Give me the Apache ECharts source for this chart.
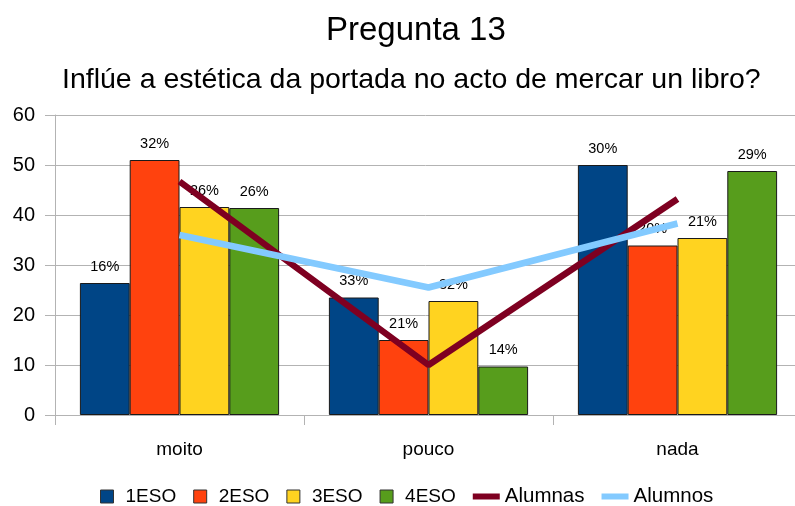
<!DOCTYPE html>
<html>
<head>
<meta charset="utf-8">
<script src="https://cdn.jsdelivr.net/npm/echarts@6/dist/echarts.min.js"></script>
<style>
  html, body { margin: 0; padding: 0; background: #fff; }
  #main { width: 795px; height: 506px; }
</style>
</head>
<body>
<div id="main"></div>
<script>
// datos
var categorias = ["moito", "pouco", "nada"];
var eso1 = [26.4, 23.5, 50];
var eso2 = [51, 15, 33.9];
var eso3 = [41.6, 22.8, 35.4];
var eso4 = [41.4, 9.7, 48.8];
var pct1 = ["16%", "33%", "30%"];
var pct2 = ["32%", "21%", "20%"];
var pct3 = ["26%", "32%", "21%"];
var pct4 = ["26%", "14%", "29%"];
var alumnas = [46.7, 10, 43.2];
var alumnos = [36, 25.5, 38.3];

var myChart = echarts.init(document.getElementById('main'));

var fuente = "Liberation Sans";
var cadrado = "path://M0,0h10v10h-10z";
var liña = "path://M0,0h27v6h-27z";

function barra(nome, datos, etiquetas, cor) {
  return {
    name: nome,
    type: "bar",
    data: datos,
    barGap: 0,
    barCategoryGap: "20%",
    itemStyle: { color: cor, borderColor: "#1a1a1a", borderWidth: 1 },
    label: {
      show: true,
      position: "top",
      distance: 9,
      color: "#000",
      fontFamily: fuente,
      fontSize: 14.5,
      formatter: function (p) { return etiquetas[p.dataIndex]; }
    }
  };
}

function linea(nome, datos, cor) {
  return {
    name: nome,
    type: "line",
    data: datos,
    symbol: "none",
    lineStyle: { color: cor, width: 6.5, cap: "butt" },
    itemStyle: { color: cor }
  };
}

var option = {
  animation: false,
  title: [{
    text: "Pregunta 13",
    left: 321,
    top: 9,
    textStyle: { fontFamily: fuente, fontSize: 33, fontWeight: "normal", color: "#000" }
  }, {
    text: "Inflúe a estética da portada no acto de mercar un libro?",
    left: 57,
    top: 61,
    textStyle: { fontFamily: fuente, fontSize: 28.5, fontWeight: "normal", color: "#000" }
  }],
  legend: {
    top: 481,
    left: 95,
    itemWidth: 27,
    itemHeight: 13,
    itemGap: 17,
    textStyle: { fontFamily: fuente, fontSize: 19, color: "#000" },
    data: [
      { name: "1ESO", icon: cadrado, itemStyle: { borderColor: "#333", borderWidth: 1 } },
      { name: "2ESO", icon: cadrado, itemStyle: { borderColor: "#333", borderWidth: 1 } },
      { name: "3ESO", icon: cadrado, itemStyle: { borderColor: "#333", borderWidth: 1 } },
      { name: "4ESO", icon: cadrado, itemStyle: { borderColor: "#333", borderWidth: 1 } },
      { name: "Alumnas", icon: liña, textStyle: { fontSize: 20.5 } },
      { name: "Alumnos", icon: liña, textStyle: { fontSize: 20.5 } }
    ]
  },
  grid: {
    left: 55,
    top: 115,
    width: 747,
    height: 300,
    outerBoundsMode: "none",
    containLabel: false
  },
  xAxis: {
    type: "category",
    data: categorias,
    axisLine: { lineStyle: { color: "#b3b3b3" } },
    axisTick: { show: true, length: 10, lineStyle: { color: "#b3b3b3" } },
    axisLabel: { fontFamily: fuente, fontSize: 19, color: "#000", margin: 25 }
  },
  yAxis: {
    type: "value",
    min: 0,
    max: 60,
    interval: 10,
    axisLine: { show: true, lineStyle: { color: "#b3b3b3" } },
    axisTick: { show: true, length: 10, lineStyle: { color: "#b3b3b3" } },
    splitLine: { lineStyle: { color: "#b3b3b3" } },
    axisLabel: { fontFamily: fuente, fontSize: 20, color: "#000", margin: 20 }
  },
  series: [
    barra("1ESO", eso1, pct1, "#004586"),
    barra("2ESO", eso2, pct2, "#ff420e"),
    barra("3ESO", eso3, pct3, "#ffd320"),
    barra("4ESO", eso4, pct4, "#579d1c"),
    linea("Alumnas", alumnas, "#7e0021"),
    linea("Alumnos", alumnos, "#83caff")
  ]
};

myChart.setOption(option);
</script>
</body>
</html>
